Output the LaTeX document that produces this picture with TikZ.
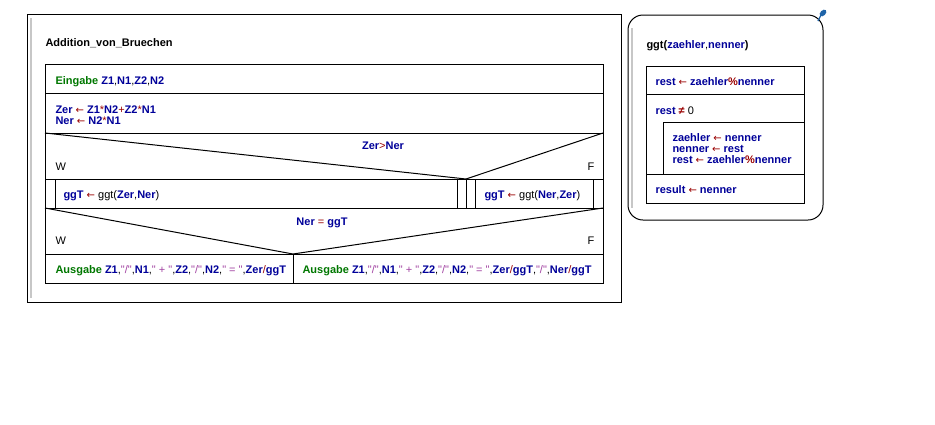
\documentclass[tikz,border=0pt]{standalone}
\usepackage{fontspec}
\setmainfont{Liberation Sans}[Ligatures=TeXOff]
\newfontfamily\arrowfont{DejaVu Sans}
\usetikzlibrary{positioning}
\definecolor{varblue}{HTML}{000099}
\definecolor{opred}{HTML}{990000}
\definecolor{kwgreen}{HTML}{007700}
\definecolor{strpink}{HTML}{A040A0}
\definecolor{pinblue}{HTML}{1F64A8}
\newcommand\nsvar[1]{\textbf{\color{varblue}#1}}
\newcommand\nsop[1]{{\color{opred}#1}}
\newcommand\nskw[1]{\textbf{\color{kwgreen}#1}}
\newcommand\nsstr[1]{{\color{strpink}#1}}
\newcommand\nsgets{\nsop{\arrowfont\fontsize{10}{10}\selectfont ←}}
\begin{document}
\begin{tikzpicture}[x=1pt,y=-1pt,line width=1pt,
            txt/.style={anchor=base west,inner sep=0pt,align=left,
                font=\fontsize{11}{11}\selectfont},
            ctxt/.style={txt,anchor=base},
            graybar/.style={draw=black!22,line width=2pt}]
            \useasboundingbox (0,0) rectangle (935,424);
            % main program
            \draw (27,14) rectangle (621,302);
            \draw[graybar] (31,18) -- (31,298);
            \node[txt] (title) at (45,46) {\textbf{Addition\_von\_Bruechen}};
            \draw (45,64) rectangle (603,283);
            \foreach \y in {93,133,179,208,254}
                \draw (45,\y) -- (603,\y);
            \draw (45,133) -- (466,179) -- (603,133);
            \draw (45,208) -- (293,254) -- (603,208);
            \foreach \x in {55,457,466,475,593}
                \draw (\x,179) -- (\x,208);
            \draw (293,254) -- (293,283);
            \node[txt] (input) at (55,84) {\nskw{Eingabe} \nsvar{Z1},\nsvar{N1},\nsvar{Z2},\nsvar{N2}};
            \node[txt] (assign) at (55,124) {\nsvar{Zer} \nsgets{} \nsvar{Z1}\nsop{*}\nsvar{N2}\nsop{+}\nsvar{Z2}\nsop{*}\nsvar{N1}\\
                \nsvar{Ner} \nsgets{} \nsvar{N2}\nsop{*}\nsvar{N1}};
            \node[ctxt] (cond1) at (383,149) {\nsvar{Zer}\nsop{>}\nsvar{Ner}};
            \node[txt] (w1) at (55,170) {W};
            \node[txt] (f1) at (587,170) {F};
            \node[txt] (call1) at (63,198) {\nsvar{ggT} \nsgets{} ggt(\nsvar{Zer},\nsvar{Ner})};
            \node[txt] (call2) at (484,198) {\nsvar{ggT} \nsgets{} ggt(\nsvar{Ner},\nsvar{Zer})};
            \node[ctxt] (cond2) at (322,225) {\nsvar{Ner} \nsop{=} \nsvar{ggT}};
            \node[txt] (w2) at (55,244) {W};
            \node[txt] (f2) at (587,244) {F};
            \node[txt] (out1) at (55,273) {\nskw{Ausgabe} \nsvar{Z1},\nsstr{"/"},\nsvar{N1},\nsstr{" + "},\nsvar{Z2},\nsstr{"/"},\nsvar{N2},\nsstr{" = "},\nsvar{Zer}\nsop{/}\nsvar{ggT}};
            \node[txt] (out2) at (302,273) {\nskw{Ausgabe} \nsvar{Z1},\nsstr{"/"},\nsvar{N1},\nsstr{" + "},\nsvar{Z2},\nsstr{"/"},\nsvar{N2},\nsstr{" = "},\nsvar{Zer}\nsop{/}\nsvar{ggT},\nsstr{"/"},\nsvar{Ner}\nsop{/}\nsvar{ggT}};
            % function ggt
            \draw[rounded corners=15] (628,15) rectangle (823,220);
            \draw[graybar] (632,28) -- (632,208);
            \fill[pinblue,rotate around={45:(823,13)}] (823,13) ellipse (4 and 2.6);
            \draw[pinblue,line width=1.2pt] (821,15) -- (818,21);
            \node[txt] (ftitle) at (646,48) {\textbf{ggt(}\nsvar{zaehler},\nsvar{nenner}\textbf{)}};
            \draw (646,66) rectangle (804,203);
            \draw (646,94) -- (804,94);
            \draw (804,122) -- (663,122) -- (663,174);
            \draw (646,174) -- (804,174);
            \node[txt] (rest1) at (655,85) {\nsvar{rest} \nsgets{} \nsvar{zaehler}\nsop{\textbf{\%}}\nsvar{nenner}};
            \node[txt] (loop) at (655,114) {\nsvar{rest} \nsop{\textbf{≠}} 0};
            \node[txt] (body) at (672,163) {\nsvar{zaehler} \nsgets{} \nsvar{nenner}\\
                \nsvar{nenner} \nsgets{} \nsvar{rest}\\
                \nsvar{rest} \nsgets{} \nsvar{zaehler}\nsop{\textbf{\%}}\nsvar{nenner}};
            \node[txt] (result) at (655,193) {\nsvar{result} \nsgets{} \nsvar{nenner}};
        \end{tikzpicture}
\end{document}
